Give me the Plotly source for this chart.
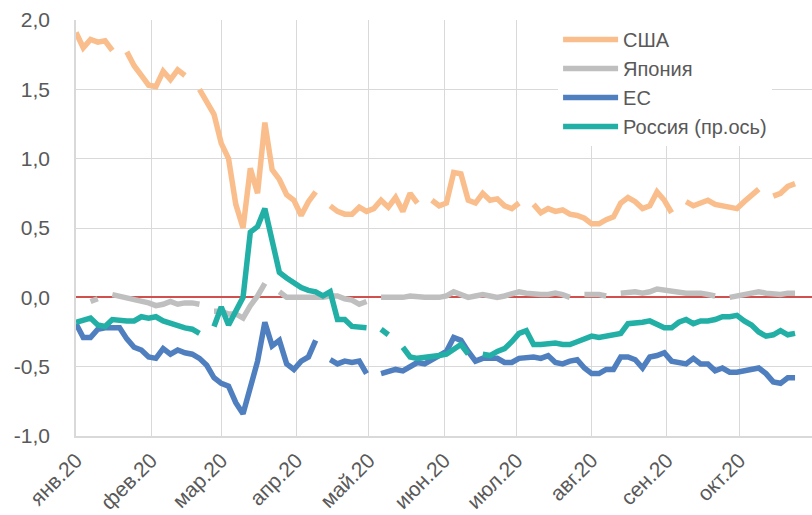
import plotly.graph_objects as go
import pandas as pd

# Даты: с 1 января 2020, шаг 3 дня (100 точек)
dates = pd.date_range("2020-01-01", periods=100, freq="3D")

# Доходности, п.п. (None = нет данных)
usa = [1.91, 1.80, 1.86, 1.84, 1.85, 1.78, None, 1.77, 1.67, 1.60,
       1.53, 1.52, 1.63, 1.57, 1.64, 1.60, None, 1.50, 1.40, 1.32,
       1.11, 1.00, 0.67, 0.50, 0.93, 0.75, 1.26, 0.92, 0.85, 0.74,
       0.70, 0.59, 0.69, 0.76, None, 0.66, 0.62, 0.60, 0.60, 0.65,
       0.62, 0.64, 0.70, 0.65, 0.72, 0.62, 0.75, 0.68, None, 0.70,
       0.66, 0.68, 0.90, 0.89, 0.70, 0.68, 0.75, 0.70, 0.71, 0.66,
       0.64, 0.68, None, 0.67, 0.61, 0.64, 0.62, 0.63, 0.60, 0.59,
       0.57, 0.53, 0.53, 0.56, 0.58, 0.68, 0.72, 0.69, 0.64, 0.66,
       0.76, 0.70, 0.61, None, 0.69, 0.66, 0.68, 0.70, 0.67, 0.66,
       0.66, 0.64, 0.69, 0.74, 0.78, None, 0.73, 0.75, 0.80, 0.82]

japan = [None, None, -0.03, -0.01, None, 0.02, 0.01, 0.00, -0.01, -0.02,
         -0.04, -0.06, -0.05, -0.03, -0.05, -0.04, -0.04, -0.05, None, -0.10,
         -0.10, -0.12, -0.12, -0.15, -0.06, 0.01, 0.10, None, 0.04, 0.00,
         0.00, 0.00, 0.00, 0.00, 0.00, 0.01, 0.01, -0.01, -0.02, -0.05,
         -0.03, None, 0.00, 0.00, 0.00, 0.00, 0.01, 0.00, 0.00, 0.00,
         0.00, 0.01, 0.04, 0.02, 0.00, 0.01, 0.02, 0.01, 0.00, 0.01,
         0.02, 0.04, 0.03, 0.02, 0.02, 0.02, 0.03, 0.02, 0.00, None,
         0.02, 0.02, 0.02, 0.01, None, 0.03, 0.04, 0.04, 0.03, 0.04,
         0.06, 0.05, 0.04, 0.04, 0.03, 0.03, 0.03, 0.02, 0.01, None,
         0.00, 0.01, 0.02, 0.03, 0.04, 0.03, 0.02, 0.02, 0.03, 0.03]

eu = [-0.19, -0.29, -0.29, -0.23, -0.22, -0.22, -0.22, -0.30, -0.36, -0.38,
      -0.43, -0.44, -0.37, -0.41, -0.38, -0.40, -0.41, -0.44, -0.49, -0.58,
      -0.62, -0.64, -0.76, -0.84, -0.63, -0.46, -0.18, -0.35, -0.31, -0.48,
      -0.52, -0.46, -0.43, -0.31, None, -0.45, -0.48, -0.46, -0.47, -0.46,
      -0.55, None, -0.55, -0.53, -0.52, -0.53, -0.50, -0.47, -0.48, -0.45,
      -0.43, -0.39, -0.29, -0.31, -0.39, -0.46, -0.44, -0.44, -0.44, -0.47,
      -0.47, -0.44, -0.43, -0.43, -0.44, -0.42, -0.47, -0.48, -0.46, -0.45,
      -0.51, -0.55, -0.55, -0.52, -0.52, -0.43, -0.43, -0.45, -0.51, -0.43,
      -0.42, -0.40, -0.46, -0.47, -0.48, -0.44, -0.48, -0.48, -0.53, -0.51,
      -0.54, -0.54, -0.53, -0.52, -0.51, -0.55, -0.61, -0.62, -0.58, -0.58]

russia = [-0.18, -0.17, -0.15, -0.20, -0.21, -0.16, -0.17, -0.17, -0.17, -0.14,
          -0.15, -0.14, -0.17, -0.19, -0.20, -0.22, -0.23, -0.26, None, -0.21,
          -0.07, -0.20, -0.09, 0.00, 0.47, 0.51, 0.64, 0.40, 0.18, 0.14,
          0.10, 0.07, 0.05, 0.04, 0.01, 0.04, -0.16, -0.16, -0.21, -0.22,
          -0.22, None, -0.23, -0.27, None, -0.36, -0.43, -0.44, -0.43, -0.42,
          -0.42, -0.41, -0.38, -0.34, -0.41, None, -0.41, -0.42, -0.39, -0.37,
          -0.32, -0.26, -0.24, -0.34, -0.34, -0.33, -0.33, -0.34, -0.34, -0.32,
          -0.30, -0.28, -0.29, -0.28, -0.27, -0.26, -0.19, -0.18, -0.18, -0.17,
          -0.20, -0.22, -0.22, -0.18, -0.16, -0.19, -0.17, -0.17, -0.16, -0.14,
          -0.14, -0.13, -0.17, -0.20, -0.25, -0.28, -0.27, -0.24, -0.27, -0.26]

# Подписи осей
month_ticks = ["2020-01-01", "2020-02-01", "2020-03-01", "2020-04-01", "2020-05-01",
               "2020-06-01", "2020-07-01", "2020-08-01", "2020-09-01", "2020-10-01"]
month_labels = ["янв.20", "фев.20", "мар.20", "апр.20", "май.20",
                "июн.20", "июл.20", "авг.20", "сен.20", "окт.20"]
y_ticks = [-1.0, -0.5, 0.0, 0.5, 1.0, 1.5, 2.0]
y_labels = ["-1,0", "-0,5", "0,0", "0,5", "1,0", "1,5", "2,0"]

series = [
    ("США", usa, "#F9BE8C"),
    ("Япония", japan, "#BFBFBF"),
    ("ЕС", eu, "#4F7FBF"),
    ("Россия (пр.ось)", russia, "#22B0A6"),
]

fig = go.Figure()
for name, vals, color in series:
    fig.add_trace(go.Scatter(x=dates, y=vals, mode="lines", name=name,
                             line=dict(color=color, width=5.5)))

grid = "#D9D9D9"
txt = "#595959"

fig.update_layout(
    width=812, height=515, autosize=False,
    margin=dict(l=76, r=0, t=20, b=79),
    plot_bgcolor="white", paper_bgcolor="white",
    font=dict(family="Liberation Sans, Arial", color=txt, size=20),
    showlegend=True,
    legend=dict(
        x=0.655, y=1.0, xanchor="left", yanchor="top",
        bgcolor="white", font=dict(size=20, color=txt),
        tracegroupgap=0, itemwidth=55,
    ),
    xaxis=dict(
        type="date", range=["2020-01-01", "2020-10-31"],
        tickmode="array", tickvals=month_ticks, ticktext=month_labels,
        tickangle=-45, tickfont=dict(size=21, color=txt),
        showgrid=True, gridcolor=grid, gridwidth=1,
        showline=True, linecolor=grid, linewidth=1.5,
        ticks="outside", ticklen=2, tickcolor="rgba(0,0,0,0)",
        zeroline=False, automargin=False,
    ),
    yaxis=dict(
        range=[-1, 2], tickmode="array", tickvals=y_ticks, ticktext=y_labels,
        tickfont=dict(size=21, color=txt),
        showgrid=True, gridcolor=grid, gridwidth=1,
        showline=True, linecolor=grid, linewidth=1.5,
        zeroline=True, zerolinecolor="#D0504D", zerolinewidth=1.5,
        ticks="outside", ticklen=20, tickcolor="rgba(0,0,0,0)",
        automargin=False,
    ),
)

# убираем поля страницы и панель инструментов
fig.write_html("out.html", config={"displayModeBar": False},
               post_script="document.body.style.margin='0';")
